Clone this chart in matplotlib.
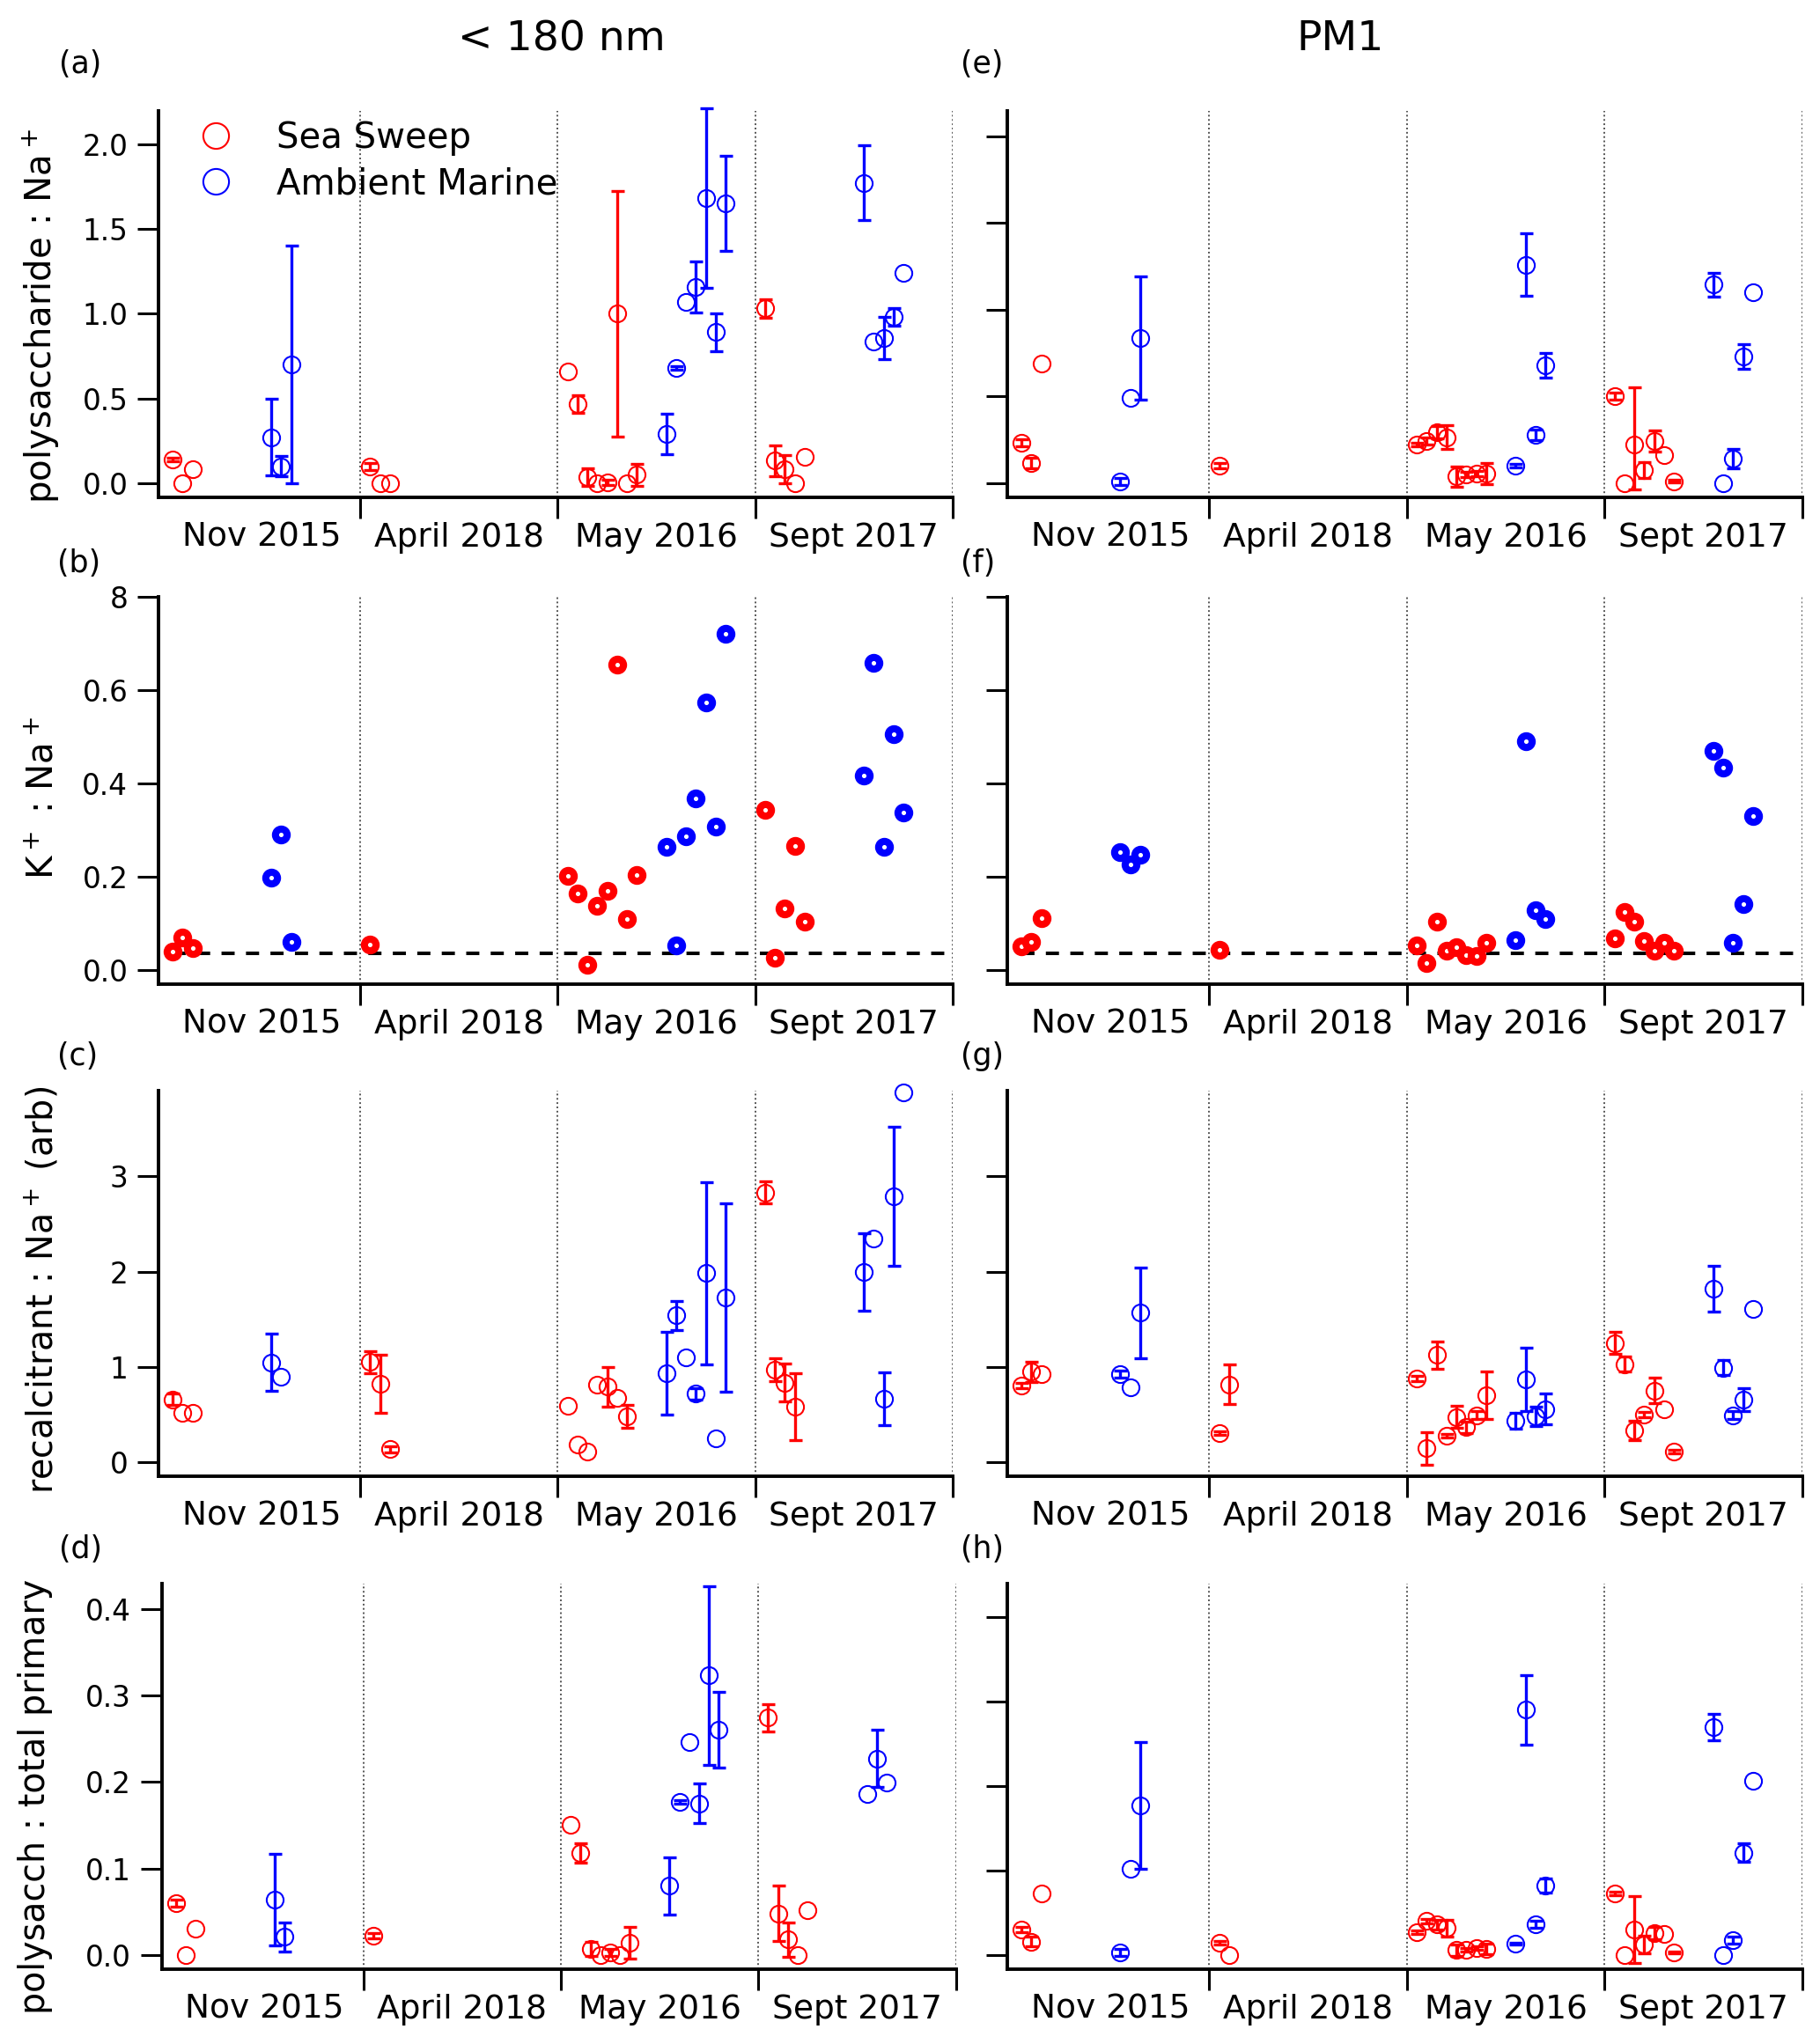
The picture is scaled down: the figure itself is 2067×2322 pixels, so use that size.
import numpy as np
import matplotlib
matplotlib.use('Agg')
import matplotlib.pyplot as plt

plt.rcParams['font.family'] = ['DejaVu Sans']
plt.rcParams['mathtext.fontset'] = 'dejavusans'

nan = np.nan
campaigns = ['Nov 2015', 'April 2018', 'May 2016', 'Sept 2017']
series_names = ['Sea Sweep', 'Ambient Marine']

# ---------------- (a) polysaccharide : Na+  (<180 nm) ----------------
a_sea_val = [[0.14, 0.0, 0.082], [0.097, 0.0, 0.0],
             [0.659, 0.466, 0.035, 0.0, 0.004, 1.0, 0.0, 0.05],
             [1.03, 0.133, 0.082, 0.0, 0.154]]
a_sea_err = [[0.012, nan, nan], [0.02, nan, nan],
             [nan, 0.05, 0.05, nan, 0.015, 0.725, nan, 0.065],
             [0.055, 0.09, 0.085, nan, nan]]
a_amb_val = [[0.271, 0.10, 0.70], [],
             [0.29, 0.68, 1.07, 1.155, 1.68, 0.89, 1.65],
             [1.77, 0.836, 0.856, 0.98, 1.242]]
a_amb_err = [[0.225, 0.062, 0.70], [],
             [0.12, 0.012, nan, 0.15, 0.53, 0.11, 0.28],
             [0.22, nan, 0.125, 0.05, nan]]

# ---------------- (e) polysaccharide : Na+  (PM1) ----------------
e_sea_val = [[0.235, 0.118, 0.69], [0.10],
             [0.221, 0.245, 0.295, 0.265, 0.038, 0.05, 0.054, 0.054],
             [0.503, 0.0, 0.223, 0.076, 0.244, 0.162, 0.01]]
# (lower, upper) where the bar is asymmetric
e_sea_err = [[0.02, 0.03, nan], [0.015],
             [0.01, 0.02, 0.035, 0.07, 0.057, 0.015, 0.015, 0.06],
             [0.02, nan, (0.26, 0.33), 0.046, 0.061, nan, 0.008]]
e_amb_val = [[0.01, 0.49, 0.837], [],
             [0.10, 1.26, 0.28, 0.68],
             [1.145, 0.0, 0.14, 0.73, 1.10]]
e_amb_err = [[0.02, nan, 0.355], [],
             [0.01, 0.18, 0.03, 0.07],
             [0.07, nan, 0.056, 0.07, nan]]

# ---------------- (b) K+ : Na+  (<180 nm) ----------------
b_sea_val = [[0.038, 0.069, 0.047], [0.054],
             [0.202, 0.164, 0.010, 0.137, 0.170, 0.655, 0.108, 0.203],
             [0.343, 0.025, 0.132, 0.266, 0.104]]
b_amb_val = [[0.197, 0.290, 0.059], [],
             [0.264, 0.052, 0.287, 0.367, 0.573, 0.307, 0.720],
             [0.416, 0.659, 0.264, 0.505, 0.337]]

# ---------------- (f) K+ : Na+  (PM1) ----------------
f_sea_val = [[0.051, 0.059, 0.110], [0.043],
             [0.052, 0.014, 0.104, 0.040, 0.049, 0.032, 0.030, 0.058],
             [0.067, 0.123, 0.103, 0.062, 0.041, 0.057, 0.040]]
f_amb_val = [[0.253, 0.225, 0.246], [],
             [0.064, 0.490, 0.127, 0.109],
             [0.469, 0.434, 0.058, 0.140, 0.330]]

k_na_reference = 0.036

# ---------------- (c) recalcitrant : Na+  (<180 nm) ----------------
c_sea_val = [[0.66, 0.52, 0.52], [1.055, 0.826, 0.138],
             [0.597, 0.184, 0.113, 0.819, 0.794, 0.678, 0.484, nan],
             [2.83, 0.97, 0.836, 0.582, nan]]
c_sea_err = [[0.06, nan, nan], [0.115, 0.305, 0.03],
             [nan, nan, nan, nan, 0.21, nan, 0.12, nan],
             [0.115, 0.12, 0.2, 0.35, nan]]
c_amb_val = [[1.048, 0.90, nan], [],
             [0.935, 1.542, 1.10, 0.72, 1.984, 0.254, 1.73],
             [2.0, 2.344, 0.67, 2.79, 3.88]]
c_amb_err = [[0.30, nan, nan], [],
             [0.435, 0.15, nan, 0.06, 0.955, nan, 0.99],
             [0.405, nan, 0.277, 0.73, nan]]

# ---------------- (g) recalcitrant : Na+  (PM1) ----------------
g_sea_val = [[0.808, 0.95, 0.925], [0.307, 0.819, nan],
             [0.882, 0.148, 1.126, 0.282, 0.477, 0.37, 0.494, 0.702],
             [1.25, 1.03, 0.335, 0.50, 0.755, 0.56, 0.113]]
g_sea_err = [[0.03, 0.11, nan], [0.02, 0.21, nan],
             [0.03, 0.17, 0.14, 0.02, 0.115, 0.06, 0.04, 0.25],
             [0.115, 0.08, 0.105, 0.03, 0.13, nan, 0.02]]
g_amb_val = [[0.925, 0.784, 1.57], [],
             [0.438, 0.872, 0.484, 0.561],
             [1.825, 0.995, 0.494, 0.66, 1.613]]
g_amb_err = [[0.04, nan, 0.475], [],
             [0.08, 0.33, 0.1, 0.165],
             [0.24, 0.08, 0.04, 0.12, nan]]

# ---------------- (d) polysacch : total primary  (<180 nm) ----------------
d_sea_val = [[0.060, 0.0, 0.030], [0.0226],
             [0.150, 0.118, 0.007, 0.0, 0.003, 0.0, 0.014, nan],
             [0.274, 0.048, 0.018, 0.0, 0.052]]
d_sea_err = [[0.004, nan, nan], [0.003],
             [nan, 0.011, 0.008, nan, 0.004, nan, 0.018, nan],
             [0.016, 0.032, 0.02, nan, nan]]
d_amb_val = [[0.064, 0.021, nan], [],
             [0.080, 0.177, 0.246, 0.175, 0.323, 0.260, nan],
             [0.186, 0.227, 0.199]]
d_amb_err = [[0.053, 0.017, nan], [],
             [0.033, 0.002, nan, 0.023, 0.103, 0.044, nan],
             [nan, 0.033, nan]]

# ---------------- (h) polysacch : total primary  (PM1) ----------------
h_sea_val = [[0.030, 0.016, 0.073], [0.0144, 0.0, nan],
             [0.027, 0.040, 0.036, 0.032, 0.0056, 0.0064, 0.0084, 0.007],
             [0.073, 0.0, 0.030, 0.0124, 0.026, 0.025, 0.003]]
h_sea_err = [[0.003, 0.006, nan], [0.002, nan, nan],
             [0.002, 0.003, 0.006, 0.01, 0.007, 0.002, 0.002, 0.006],
             [0.002, nan, 0.04, 0.01, 0.007, nan, 0.001]]
h_amb_val = [[0.003, 0.102, 0.177], [],
             [0.013, 0.29, 0.036, 0.082],
             [0.270, 0.0, 0.0176, 0.121, 0.206]]
h_amb_err = [[0.004, nan, 0.075], [],
             [0.001, 0.041, 0.004, 0.008],
             [0.0156, nan, 0.004, 0.011, nan]]

# axis settings
a_ticks = [0.0, 0.5, 1.0, 1.5, 2.0]
a_ticklabels = ['0.0', '0.5', '1.0', '1.5', '2.0']
b_ticks = [0.0, 0.2, 0.4, 0.6, 0.8]
b_ticklabels = ['0.0', '0.2', '0.4', '0.6', '8']
c_ticks = [0, 1, 2, 3]
c_ticklabels = ['0', '1', '2', '3']
d_ticks = [0.0, 0.1, 0.2, 0.3, 0.4]
d_ticklabels = ['0.0', '0.1', '0.2', '0.3', '0.4']

RED = '#ff0000'
BLUE = '#0000ff'
W, H = 2067, 2322
fig = plt.figure(figsize=(W / 100, H / 100), dpi=100)


def rect(left_px, top_px, right_px, bottom_px):
    return [left_px / W, 1 - bottom_px / H, (right_px - left_px) / W, (bottom_px - top_px) / H]


def draw_series(ax, vals, errs, color, start, ring=False, label=None):
    xs, ys, xe, ye, elo, ehi = [], [], [], [], [], []
    for ci, vlist in enumerate(vals):
        elist = errs[ci] if errs is not None else [nan] * len(vlist)
        for k, v in enumerate(vlist):
            if np.isnan(v):
                continue
            x = ci + start + 0.05 * k
            xs.append(x)
            ys.append(v)
            e = elist[k] if k < len(elist) else nan
            if isinstance(e, tuple):
                lo, hi = e
            else:
                lo = hi = e
            if not np.isnan(lo):
                xe.append(x); ye.append(v); elo.append(lo); ehi.append(hi)
    if xe:
        ax.errorbar(xe, ye, yerr=[elo, ehi], fmt='none', ecolor=color, elinewidth=2.4,
                    capsize=5.4, capthick=2.4, zorder=3, clip_on=False)
    if ring:
        ax.plot(xs, ys, 'o', ms=9.6, mfc='white', mec=color, mew=5.8,
                clip_on=False, zorder=4, label=label)
    else:
        ax.plot(xs, ys, 'o', ms=13.8, mfc='none', mec=color, mew=1.5,
                clip_on=False, zorder=4, label=label)


def style_axes(ax, ylim, ticks, ticklabels, show_labels):
    ax.set_xlim(-0.022, 4.0)
    ax.set_ylim(*ylim)
    for s in ['top', 'right']:
        ax.spines[s].set_visible(False)
    for s in ['left', 'bottom']:
        ax.spines[s].set_linewidth(2.8)
    ax.set_xticks([1, 2, 3, 4])
    ax.set_xticks([0.5, 1.5, 2.5, 3.5], minor=True)
    ax.set_xticklabels(campaigns, minor=True)
    ax.tick_params(axis='x', which='major', direction='out', length=17, width=2.2,
                   labelbottom=False)
    ax.tick_params(axis='x', which='minor', length=0, labelsize=27, pad=20)
    ax.set_yticks(ticks)
    ax.set_yticklabels(ticklabels)
    ax.tick_params(axis='y', which='major', direction='out', length=17, width=2.2,
                   labelsize=23.5, pad=8, labelleft=show_labels)
    for xv in [1, 2, 3, 4]:
        ax.axvline(xv, color='#555555', lw=1.4, ls=(0, (1.0, 1.5)), zorder=1)


rows = [(126, 565), (678, 1118), (1239, 1677), (1799, 2237)]
left_x = [(180, 1082), (180, 1082), (180, 1082), (183.5, 1085.5)]
right_x = (1144, 2047)

ylims_left = [(-0.084, 2.195), (-0.031, 0.8), (-0.145, 3.90), (-0.0164, 0.429)]
ylims_right = [(-0.082, 2.147), (-0.031, 0.8), (-0.145, 3.90), (-0.0168, 0.4394)]
tick_sets = [(a_ticks, a_ticklabels), (b_ticks, b_ticklabels),
             (c_ticks, c_ticklabels), (d_ticks, d_ticklabels)]

left_data = [(a_sea_val, a_sea_err, a_amb_val, a_amb_err),
             (b_sea_val, None, b_amb_val, None),
             (c_sea_val, c_sea_err, c_amb_val, c_amb_err),
             (d_sea_val, d_sea_err, d_amb_val, d_amb_err)]
right_data = [(e_sea_val, e_sea_err, e_amb_val, e_amb_err),
              (f_sea_val, None, f_amb_val, None),
              (g_sea_val, g_sea_err, g_amb_val, g_amb_err),
              (h_sea_val, h_sea_err, h_amb_val, h_amb_err)]

ylabels = ['polysaccharide : Na$^+$', 'K$^+$ : Na$^+$',
           'recalcitrant : Na$^+$ (arb)', 'polysacch : total primary']
ylabel_size = [29, 29, 28.5, 28.5]
ylabel_pos = [(70, 0.469), (70, 0.481), (70, 0.483), (60, 0.448)]
panel_left = ['(a)', '(b)', '(c)', '(d)']
panel_right = ['(e)', '(f)', '(g)', '(h)']
panel_label_y = [73, 640, 1200, 1760]
panel_label_xl = [67, 65, 65, 67]

axes_left = []
for r in range(4):
    top, bot = rows[r]
    for side in ['L', 'R']:
        if side == 'L':
            x0, x1 = left_x[r]
            data = left_data[r]
            ylim = ylims_left[r]
        else:
            x0, x1 = right_x
            data = right_data[r]
            ylim = ylims_right[r]
        ax = fig.add_axes(rect(x0, top, x1, bot))
        style_axes(ax, ylim, tick_sets[r][0], tick_sets[r][1], side == 'L')
        ring = (r == 1)
        if ring:
            ax.plot([0.05, 4.0], [k_na_reference, k_na_reference], color='black',
                    lw=2.9, ls=(0, (3.7, 3.2)), zorder=2)
        lab = (r == 0 and side == 'L')
        draw_series(ax, data[0], data[1], RED, 0.05, ring=ring,
                    label=series_names[0] if lab else None)
        draw_series(ax, data[2], data[3], BLUE, 0.55, ring=ring,
                    label=series_names[1] if lab else None)
        if side == 'L':
            ax.set_ylabel(ylabels[r], fontsize=ylabel_size[r])
            ax.yaxis.set_label_coords((ylabel_pos[r][0] - x0) / (x1 - x0), ylabel_pos[r][1])
            axes_left.append(ax)

# legend in panel (a)
leg = axes_left[0].legend(loc='upper left', bbox_to_anchor=(217 / W, 1 - 137 / H),
                          bbox_transform=fig.transFigure, frameon=False, fontsize=29,
                          markerscale=21 / 13.8, handlelength=1.4, handletextpad=1.0,
                          labelspacing=0.3, borderpad=0, borderaxespad=0)

# panel letters
for r in range(4):
    fig.text(panel_label_xl[r] / W, 1 - panel_label_y[r] / H, panel_left[r],
             fontsize=25, ha='left', va='center')
    fig.text(1091 / W, 1 - panel_label_y[r] / H, panel_right[r],
             fontsize=25, ha='left', va='center')

# column titles
fig.text(638 / W, 1 - 57 / H, '< 180 nm', fontsize=34, ha='center', va='baseline')
fig.text(1522 / W, 1 - 57 / H, 'PM1', fontsize=34, ha='center', va='baseline')

fig.savefig('out.png', dpi=100)
